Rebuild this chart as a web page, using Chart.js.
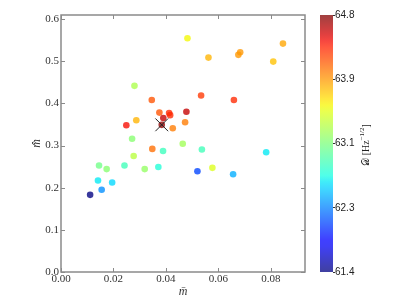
<!DOCTYPE html>
<html>
<head>
<meta charset="utf-8">
<script src="https://cdn.jsdelivr.net/npm/chart.js@4.4.0/dist/chart.umd.min.js"></script>
<style>
  body { margin: 0; background: #fff; }
  #wrap { position: relative; width: 407px; height: 303px; }
  #wrap canvas { position: absolute; left: 0; top: 0; }
</style>
</head>
<body>
<div id="wrap">
  <canvas id="main" width="407" height="303"></canvas>
  <canvas id="cbar" width="407" height="303"></canvas>
</div>
<script>
// m bar (x), m hat (y) and noise level D for every point
const mBar = [0.0482, 0.0280, 0.0346, 0.0534, 0.0659, 0.0375, 0.0390, 0.0412, 0.0416, 0.0478,
  0.0473, 0.0426, 0.0249, 0.0287, 0.0384, 0.0271, 0.0464, 0.0348, 0.0389, 0.0145,
  0.0174, 0.0242, 0.0277, 0.0319, 0.0371, 0.0520, 0.0141, 0.0155, 0.0195, 0.0111,
  0.0537, 0.0782, 0.0577, 0.0656, 0.0562, 0.0676, 0.0683, 0.0809, 0.0846];
const mHat = [0.5545, 0.4415, 0.408, 0.4185, 0.408, 0.378, 0.365, 0.377, 0.372, 0.380,
  0.355, 0.341, 0.348, 0.360, 0.349, 0.316, 0.304, 0.292, 0.287, 0.2526,
  0.244, 0.2526, 0.275, 0.244, 0.249, 0.239, 0.217, 0.195, 0.2124, 0.183,
  0.2906, 0.284, 0.247, 0.232, 0.5085, 0.515, 0.521, 0.499, 0.5417];
const noise = [63.6, 63.3, 64.2, 64.3, 64.35, 64.2, 64.6, 64.35, 64.35, 64.6,
  64.05, 64.05, 64.45, 63.85, 64.75, 63.15, 63.25, 64.1, 62.83, 63.05,
  63.15, 62.85, 63.35, 63.2, 62.72, 62.05, 62.6, 62.3, 62.55, 61.4,
  62.85, 62.6, 63.5, 62.4, 63.85, 63.95, 63.95, 63.8, 63.9];

// highlighted point (cross)
const bestX = [0.0384];
const bestY = [0.349];

const xTicks = [0, 0.02, 0.04, 0.06, 0.08];
const yTicks = [0, 0.1, 0.2, 0.3, 0.4, 0.5, 0.6];
const cbTicks = [61.4, 62.25, 63.1, 63.95, 64.8];
const cbTickLabels = ['61.4', '62.3', '63.1', '63.9', '64.8'];
const cbMin = 61.4, cbMax = 64.8;

const ALPHA = 0.78;

// matplotlib jet
const jetR = [[0, 0], [0.35, 0], [0.66, 1], [0.89, 1], [1, 0.5]];
const jetG = [[0, 0], [0.125, 0], [0.375, 1], [0.64, 1], [0.91, 0], [1, 0]];
const jetB = [[0, 0.5], [0.11, 1], [0.34, 1], [0.65, 0], [1, 0]];
function interp(pts, t) {
  for (let i = 1; i < pts.length; i++) {
    if (t <= pts[i][0]) {
      const a = pts[i - 1], b = pts[i];
      return a[1] + (b[1] - a[1]) * (t - a[0]) / (b[0] - a[0]);
    }
  }
  return pts[pts.length - 1][1];
}
function jet(t, alpha) {
  t = Math.min(Math.max(t, 0), 1);
  const r = Math.round(255 * interp(jetR, t));
  const g = Math.round(255 * interp(jetG, t));
  const b = Math.round(255 * interp(jetB, t));
  return 'rgba(' + r + ',' + g + ',' + b + ',' + alpha + ')';
}
function colorFor(d) {
  return jet((d - cbMin) / (cbMax - cbMin), ALPHA);
}

const serif = "'Liberation Serif', 'DejaVu Serif', serif";

// frame + inward ticks like matplotlib
const framePlugin = {
  id: 'frame',
  afterDatasetsDraw(chart) {
    const { ctx, chartArea: a, scales } = chart;
    ctx.save();
    ctx.strokeStyle = '#8a8a8a';
    ctx.lineWidth = 1.5;
    ctx.strokeRect(a.left, a.top, a.right - a.left, a.bottom - a.top);
    ctx.lineWidth = 1;
    ctx.beginPath();
    xTicks.forEach(v => {
      const px = Math.round(scales.x.getPixelForValue(v)) + 0.5;
      ctx.moveTo(px, a.top); ctx.lineTo(px, a.top + 4);
      ctx.moveTo(px, a.bottom); ctx.lineTo(px, a.bottom - 4);
    });
    yTicks.forEach(v => {
      const py = Math.round(scales.y.getPixelForValue(v)) + 0.5;
      ctx.moveTo(a.left, py); ctx.lineTo(a.left + 4, py);
      ctx.moveTo(a.right, py); ctx.lineTo(a.right - 4, py);
    });
    ctx.stroke();
    ctx.restore();
  }
};

new Chart(document.getElementById('main'), {
  type: 'scatter',
  data: {
    datasets: [
      {
        data: bestX.map((x, i) => ({ x: x, y: bestY[i] })),
        pointStyle: 'crossRot',
        pointRadius: 9,
        borderColor: '#222',
        borderWidth: 1,
        backgroundColor: 'transparent'
      },
      {
        data: mBar.map((x, i) => ({ x: x, y: mHat[i] })),
        pointRadius: 3.3,
        borderWidth: 0,
        backgroundColor: ctx => colorFor(noise[ctx.dataIndex])
      }
    ]
  },
  options: {
    responsive: false,
    animation: false,
    events: [],
    layout: { padding: { top: 15, right: 102, left: 0, bottom: 0 } },
    plugins: { legend: { display: false }, tooltip: { enabled: false } },
    scales: {
      x: {
        type: 'linear',
        min: 0,
        max: 0.093,
        grid: { display: false, drawTicks: false },
        border: { display: false },
        afterBuildTicks: s => { s.ticks = xTicks.map(v => ({ value: v })); },
        afterFit: s => { s.height = 31; },
        ticks: {
          callback: v => v.toFixed(2),
          font: { family: serif, size: 11 },
          color: '#333',
          padding: 1,
          maxRotation: 0
        },
        title: {
          display: true,
          text: 'm\u0304',
          font: { family: serif, size: 12, style: 'italic' },
          color: '#333',
          padding: { top: 0, bottom: 4 }
        }
      },
      y: {
        type: 'linear',
        min: 0,
        max: 0.6095,
        grid: { display: false, drawTicks: false },
        border: { display: false },
        afterBuildTicks: s => { s.ticks = yTicks.map(v => ({ value: v })); },
        afterFit: s => { s.width = 61; },
        ticks: {
          callback: v => v.toFixed(1),
          font: { family: serif, size: 11 },
          color: '#333',
          padding: 2
        },
        title: {
          display: true,
          text: 'm\u0302',
          font: { family: serif, size: 12, style: 'italic' },
          color: '#333',
          padding: { top: 30, bottom: 0 }
        }
      }
    }
  },
  plugins: [framePlugin]
});

// colour bar label, reading bottom to top
const cbTitlePlugin = {
  id: 'cbTitle',
  afterDraw(chart) {
    const ctx = chart.ctx;
    const main = '\uD835\uDC9F [Hz';
    const sup = '\u22121/2';
    const tail = ']';
    ctx.save();
    ctx.translate(366, 145);
    ctx.rotate(-Math.PI / 2);
    ctx.fillStyle = '#222';
    ctx.textBaseline = 'middle';
    ctx.font = '10px ' + serif;
    const w1 = ctx.measureText(main).width;
    const w3 = ctx.measureText(tail).width;
    ctx.font = '7px ' + serif;
    const w2 = ctx.measureText(sup).width;
    let x = -(w1 + w2 + w3) / 2;
    ctx.font = '10px ' + serif;
    ctx.fillText(main, x, 0);
    x += w1;
    ctx.font = '7px ' + serif;
    ctx.fillText(sup, x, -4);
    x += w2;
    ctx.font = '10px ' + serif;
    ctx.fillText(tail, x, 0);
    ctx.restore();
  }
};

new Chart(document.getElementById('cbar'), {
  type: 'bar',
  data: {
    labels: [''],
    datasets: [{
      data: [[cbMin, cbMax]],
      barPercentage: 1,
      categoryPercentage: 1,
      borderWidth: 0,
      backgroundColor: ctx => {
        const a = ctx.chart.chartArea;
        if (!a) return null;
        const g = ctx.chart.ctx.createLinearGradient(0, a.bottom, 0, a.top);
        for (let i = 0; i <= 40; i++) {
          g.addColorStop(i / 40, jet(i / 40, 0.75));
        }
        return g;
      }
    }]
  },
  options: {
    responsive: false,
    animation: false,
    events: [],
    layout: { padding: { left: 320, top: 15, bottom: 31, right: 0 } },
    plugins: { legend: { display: false }, tooltip: { enabled: false } },
    scales: {
      x: { display: false },
      y: {
        position: 'right',
        min: cbMin,
        max: cbMax,
        afterBuildTicks: s => { s.ticks = cbTicks.map(v => ({ value: v })); },
        afterFit: s => { s.width = 74; },
        grid: { drawOnChartArea: false, tickLength: 2, color: '#333' },
        border: { display: false },
        ticks: {
          callback: (v, i) => cbTickLabels[i],
          font: { family: "'Liberation Sans', Arial, sans-serif", size: 10 },
          color: '#222',
          padding: 0
        }
      }
    }
  },
  plugins: [cbTitlePlugin]
});
</script>
</body>
</html>
